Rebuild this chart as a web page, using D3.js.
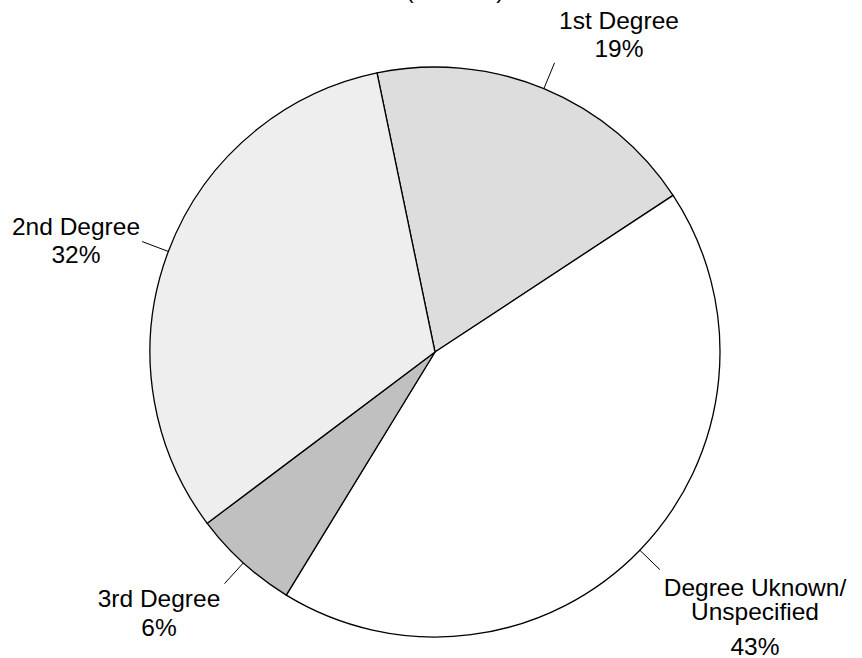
<!DOCTYPE html>
<html>
<head>
<meta charset="utf-8">
<script src="https://cdn.jsdelivr.net/npm/d3@7"></script>
<style>
  html, body { margin: 0; padding: 0; background: #fff; overflow: hidden; }
  text { font-family: "Liberation Sans", Arial, sans-serif; fill: #000; }
</style>
</head>
<body>
<script>
'use strict';

// slice data, clockwise from the top
const categories = ["1st Degree", "Degree Uknown/\nUnspecified", "3rd Degree", "2nd Degree"];
const shares = [19, 43, 6, 32];
const pctLabels = ["19%", "43%", "6%", "32%"];
const fills = ["#dddddd", "#ffffff", "#c0c0c0", "#eeeeee"];

// where each label block sits (x centre, baseline of each line)
const labelX = [619, 755, 159, 76];
const labelY = [[29, 57], [596, 620, 655], [607, 636], [235, 263]];

(function () {
  const width = 862, height = 658;
  const cx = 435, cy = 352, radius = 285;

  let svg = d3.select('body').append('svg')
    .attr('width', width)
    .attr('height', height);

  // title sits mostly above the page edge, only the bottom of it shows
  svg.append('text')
    .attr('x', 455)
    .attr('y', -2)
    .attr('text-anchor', 'middle')
    .style('font-size', '24px')
    .text('(in totals)');

  let data = categories.map((c, i) => ({ name: c, value: shares[i], pct: pctLabels[i], fill: fills[i], i: i }));

  const start = -11.74 * Math.PI / 180;
  let pie = d3.pie()
    .sort(null)
    .value(d => d.value)
    .startAngle(start)
    .endAngle(start + 2 * Math.PI);

  let arc = d3.arc().innerRadius(0).outerRadius(radius);

  let g = svg.append('g').attr('transform', 'translate(' + cx + ',' + cy + ')');
  let arcs = pie(data);

  g.selectAll('path.slice')
    .data(arcs)
    .enter()
    .append('path')
    .attr('class', 'slice')
    .attr('d', arc)
    .attr('fill', d => d.data.fill)
    .attr('stroke', '#000')
    .attr('stroke-width', 1.3)
    .attr('stroke-linejoin', 'round');

  // leader ticks going out from the middle of each slice
  g.selectAll('line.leader')
    .data(arcs)
    .enter()
    .append('line')
    .attr('class', 'leader')
    .attr('x1', d => radius * Math.sin((d.startAngle + d.endAngle) / 2))
    .attr('y1', d => -radius * Math.cos((d.startAngle + d.endAngle) / 2))
    .attr('x2', d => (radius + 28) * Math.sin((d.startAngle + d.endAngle) / 2))
    .attr('y2', d => -(radius + 28) * Math.cos((d.startAngle + d.endAngle) / 2))
    .attr('stroke', '#000')
    .attr('stroke-width', 1);

  // labels: name lines then percent
  data.forEach(function (d) {
    let lines = d.name.split('\n').concat([d.pct]);
    lines.forEach(function (t, k) {
      svg.append('text')
        .attr('x', labelX[d.i])
        .attr('y', labelY[d.i][k])
        .attr('text-anchor', 'middle')
        .style('font-size', '24.5px')
        .text(t);
    });
  });
})();
</script>
</body>
</html>
